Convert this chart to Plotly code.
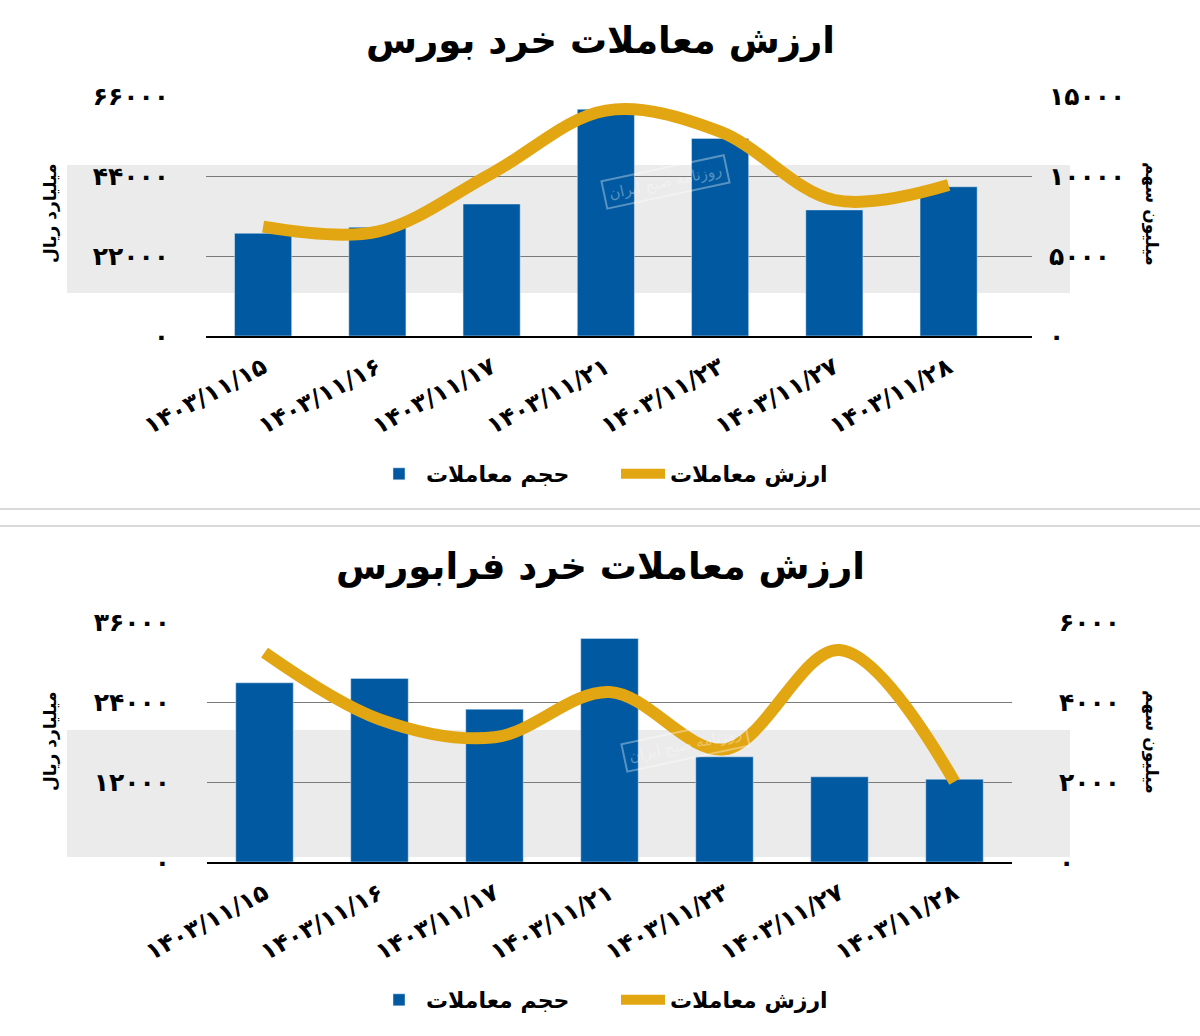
import plotly.graph_objects as go

# ---------------- data ----------------
dates = ["۱۴۰۳/۱۱/۱۵", "۱۴۰۳/۱۱/۱۶", "۱۴۰۳/۱۱/۱۷", "۱۴۰۳/۱۱/۲۱",
         "۱۴۰۳/۱۱/۲۳", "۱۴۰۳/۱۱/۲۷", "۱۴۰۳/۱۱/۲۸"]

# Top chart (بورس)
bourse_volume = [6420, 6800, 8250, 14170, 12350, 7880, 9330]        # million shares (right axis)
bourse_value = [30070, 28700, 44700, 62000, 56200, 37400, 41500]     # billion rials (left axis)

# Bottom chart (فرابورس)
farabourse_volume = [4480, 4590, 3820, 5590, 2630, 2130, 2070]       # million shares (right axis)
farabourse_value = [31400, 21400, 18700, 25500, 16900, 31800, 12050]  # billion rials (left axis)

top_left_ticks = [0, 22000, 44000, 66000]
top_left_text = ["۰", "۲۲۰۰۰", "۴۴۰۰۰", "۶۶۰۰۰"]
top_right_ticks = [0, 5000, 10000, 15000]
top_right_text = ["۰", "۵۰۰۰", "۱۰۰۰۰", "۱۵۰۰۰"]

bot_left_ticks = [0, 12000, 24000, 36000]
bot_left_text = ["۰", "۱۲۰۰۰", "۲۴۰۰۰", "۳۶۰۰۰"]
bot_right_ticks = [0, 2000, 4000, 6000]
bot_right_text = ["۰", "۲۰۰۰", "۴۰۰۰", "۶۰۰۰"]

title_top = "ارزش معاملات خرد بورس"
title_bot = "ارزش معاملات خرد فرابورس"
name_volume = "حجم معاملات"
name_value = "ارزش معاملات"
unit_left = "میلیارد ریال"
unit_right = "میلیون سهم"

# ---------------- style ----------------
BLUE = "#0059A1"
GOLD = "#E3A613"
FONT = "DejaVu Sans"
W, H = 1200, 1036

def py(px):
    return 1 - px / H

def pxx(px):
    return px / W

fig = go.Figure()

xi = list(range(len(dates)))

# top traces (bars on base right axis, line on overlaying left axis -> drawn on top)
fig.add_trace(go.Bar(x=xi, y=bourse_volume, name=name_volume, marker_color=BLUE,
                     width=0.5, xaxis="x", yaxis="y2", legend="legend"))
fig.add_trace(go.Scatter(x=xi, y=bourse_value, name=name_value, mode="lines",
                         line=dict(color=GOLD, width=12, shape="spline", smoothing=1.0),
                         xaxis="x", yaxis="y", legend="legend"))
# bottom traces
fig.add_trace(go.Bar(x=xi, y=farabourse_volume, name=name_volume, marker_color=BLUE,
                     width=0.5, xaxis="x2", yaxis="y4", legend="legend2"))
fig.add_trace(go.Scatter(x=xi, y=farabourse_value, name=name_value, mode="lines",
                         line=dict(color=GOLD, width=12, shape="spline", smoothing=1.0),
                         xaxis="x2", yaxis="y3", legend="legend2"))

tickfont_y = dict(family=FONT, size=25, color="black", weight="bold")
tickfont_x = dict(family=FONT, size=24, color="black", weight="bold")

nogrid = dict(showgrid=False, zeroline=False, showline=False, ticks="", automargin=False)
withgrid = dict(showgrid=True, gridcolor="#7a7a7a", gridwidth=1, zeroline=False,
                showline=False, ticks="", automargin=False)

top_dom = [py(336), py(96)]
bot_dom = [py(862), py(622)]

legend_common = dict(orientation="h", x=pxx(372), xanchor="left", yanchor="middle",
                     font=dict(family=FONT, size=22, weight="bold"), traceorder="normal",
                     itemwidth=44, entrywidthmode="pixels", entrywidth=185,
                     bgcolor="rgba(0,0,0,0)")

fig.update_layout(
    width=W, height=H,
    margin=dict(l=0, r=0, t=0, b=0, autoexpand=False),
    paper_bgcolor="white", plot_bgcolor="rgba(0,0,0,0)",
    font=dict(family=FONT, color="black"),
    xaxis=dict(domain=[pxx(206), pxx(1032)], range=[-0.5, 6.73], anchor="y2",
               tickvals=xi, ticktext=dates, tickangle=-28, tickfont=tickfont_x,
               showgrid=False, zeroline=False, showline=True, linecolor="black",
               linewidth=2, ticks="", ticklabelstandoff=6, automargin=False),
    yaxis2=dict(domain=top_dom, range=[0, 15000], anchor="x", side="right",
                tickvals=top_right_ticks, ticktext=top_right_text, tickfont=tickfont_y,
                ticklabelstandoff=16, **withgrid),
    yaxis=dict(domain=top_dom, range=[0, 66000], anchor="x", side="left", overlaying="y2",
               tickvals=top_left_ticks, ticktext=top_left_text, tickfont=tickfont_y,
               ticklabelstandoff=36, **nogrid),
    xaxis2=dict(domain=[pxx(207), pxx(1012)], range=[-0.5, 6.5], anchor="y4",
                tickvals=xi, ticktext=dates, tickangle=-28, tickfont=tickfont_x,
                showgrid=False, zeroline=False, showline=True, linecolor="black",
                linewidth=2, ticks="", ticklabelstandoff=6, automargin=False),
    yaxis4=dict(domain=bot_dom, range=[0, 6000], anchor="x2", side="right",
                tickvals=bot_right_ticks, ticktext=bot_right_text, tickfont=tickfont_y,
                ticklabelstandoff=46, **withgrid),
    yaxis3=dict(domain=bot_dom, range=[0, 36000], anchor="x2", side="left", overlaying="y4",
                tickvals=bot_left_ticks, ticktext=bot_left_text, tickfont=tickfont_y,
                ticklabelstandoff=36, **nogrid),
    legend=dict(y=py(474), **legend_common),
    legend2=dict(y=py(1000), **legend_common),
    bargap=0.5,
)

# background bands (watermark band)
for y0, y1 in [(165, 293), (730, 857)]:
    fig.add_shape(type="rect", xref="paper", yref="paper",
                  x0=pxx(67), x1=pxx(1070), y0=py(y1), y1=py(y0),
                  fillcolor="#EBEBEB", line_width=0, layer="below")

# separator lines
for yy in [509, 526]:
    fig.add_shape(type="line", xref="paper", yref="paper", x0=0, x1=1,
                  y0=py(yy), y1=py(yy), line=dict(color="#DADADA", width=2))

# titles
fig.add_annotation(text=title_top, xref="paper", yref="paper", x=0.5, y=py(40),
                   xanchor="center", yanchor="middle",
                   showarrow=False, font=dict(family=FONT, size=37, weight="bold"))
fig.add_annotation(text=title_bot, xref="paper", yref="paper", x=0.5, y=py(566),
                   xanchor="center", yanchor="middle",
                   showarrow=False, font=dict(family=FONT, size=37, weight="bold"))

# axis unit titles
for yc in [214, 742]:
    fig.add_annotation(text=unit_left, xref="paper", yref="paper", x=pxx(50), y=py(yc),
                       xanchor="center", yanchor="middle",
                       showarrow=False, textangle=-90,
                       font=dict(family=FONT, size=17, weight="bold"))
    fig.add_annotation(text=unit_right, xref="paper", yref="paper", x=pxx(1152), y=py(yc),
                       xanchor="center", yanchor="middle",
                       showarrow=False, textangle=90,
                       font=dict(family=FONT, size=17, weight="bold"))

# watermark stamp text
for (xc, yc) in [(665, 182), (685, 745)]:
    fig.add_annotation(text="روزنامه صبح ایران", xref="paper", yref="paper",
                       x=pxx(xc), y=py(yc), showarrow=False, textangle=-12,
                       xanchor="center", yanchor="middle",
                       font=dict(family=FONT, size=15, color="rgba(255,255,255,0.35)"),
                       bordercolor="rgba(255,255,255,0.35)", borderwidth=2, borderpad=4)

fig.write_html("out.html")
